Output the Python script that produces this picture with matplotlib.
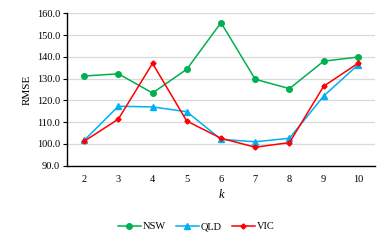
import matplotlib
matplotlib.use("Agg")
import matplotlib.pyplot as plt

k = [2, 3, 4, 5, 6, 7, 8, 9, 10]
nsw = [131.2, 132.2, 123.4, 134.3, 155.7, 129.7, 125.4, 138.0, 139.9]
qld = [101.6, 117.3, 117.0, 114.8, 102.1, 101.0, 102.6, 122.0, 136.3]
vic = [101.2, 111.4, 137.0, 110.5, 102.6, 98.5, 100.6, 126.5, 137.0]
yticks = [90, 100, 110, 120, 130, 140, 150, 160]

plt.rcParams['font.family'] = ['Liberation Serif', 'DejaVu Serif']
fig = plt.figure(figsize=(3.89, 2.43), dpi=100)
ax = fig.add_axes([67/389, 1-165.7/243, (375-67)/389, (165.7-13.3)/243])

ax.plot(k, nsw, color='#00B050', marker='o', markersize=4, lw=1.1, label='NSW')
ax.plot(k, qld, color='#00B0F0', marker='^', markersize=4, lw=1.1, label='QLD')
ax.plot(k, vic, color='#FF0000', marker='D', markersize=2.6, lw=1.1, label='VIC')

ax.set_xlim(1.5, 10.5)
ax.set_ylim(90, 160)
ax.set_yticks(yticks)
ax.set_yticklabels([f"{v:.1f}" for v in yticks])
ax.set_xticks(k)
ax.grid(axis='y', color='#D9D9D9', lw=0.9)
ax.set_axisbelow(True)
for s in ['top', 'right']:
    ax.spines[s].set_visible(False)
ax.spines['left'].set_linewidth(1.0)
ax.spines['bottom'].set_linewidth(1.0)
ax.tick_params(axis='y', labelsize=7.5, length=3, width=0.8, pad=2)
ax.tick_params(axis='x', labelsize=7.5, length=0, pad=7)
ax.set_ylabel('RMSE', fontsize=8, labelpad=4)
ax.set_xlabel('k', fontsize=9, style='italic', labelpad=3)

fig.legend(loc='center', bbox_to_anchor=(0.504, 1-226.7/243), ncol=3, frameon=False,
           fontsize=7.5, handlelength=2.2, columnspacing=1.0, handletextpad=0.15)

fig.savefig('out.png', dpi=100)
